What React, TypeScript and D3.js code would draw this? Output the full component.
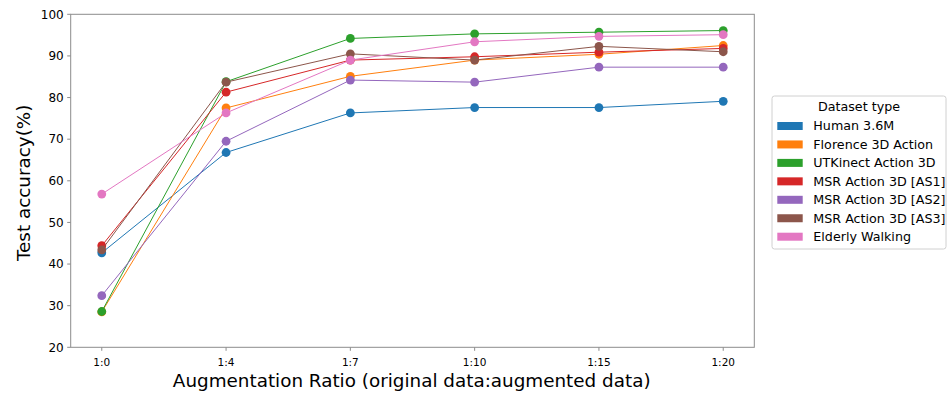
import React from "react";
import * as d3 from "d3";

const categories = ["1:0", "1:4", "1:7", "1:10", "1:15", "1:20"];
const seriesNames = [
  "Human 3.6M",
  "Florence 3D Action",
  "UTKinect Action 3D",
  "MSR Action 3D [AS1]",
  "MSR Action 3D [AS2]",
  "MSR Action 3D [AS3]",
  "Elderly Walking",
];
const human = [42.7, 66.8, 76.3, 77.6, 77.6, 79.1];
const florence = [28.5, 77.5, 85.1, 89.0, 90.4, 92.5];
const utkinect = [28.6, 83.8, 94.2, 95.3, 95.7, 96.1];
const msrAS1 = [44.4, 81.3, 89.0, 89.8, 90.9, 91.8];
const msrAS2 = [32.4, 69.5, 84.2, 83.7, 87.3, 87.3];
const msrAS3 = [43.4, 83.7, 90.5, 89.0, 92.3, 91.0];
const elderly = [56.8, 76.3, 89.0, 93.4, 94.7, 95.1];
const yTicks = [20, 30, 40, 50, 60, 70, 80, 90, 100];
const colors = ["#1f77b4", "#ff7f0e", "#2ca02c", "#d62728", "#9467bd", "#8c564b", "#e377c2"];

const allSeries = [human, florence, utkinect, msrAS1, msrAS2, msrAS3, elderly];

export default function App() {
  const W = 950, H = 394;
  const left = 70.7, right = 754.3, top = 14.3, bottom = 347.3;
  const x = d3.scalePoint<string>().domain(categories).range([left, right]).padding(0.25);
  const y = d3.scaleLinear().domain([20, 100]).range([bottom, top]);
  const line = d3.line<number>().x((_, i) => x(categories[i])!).y((d) => y(d));
  const font = "'DejaVu Sans', sans-serif";
  const axisColor = "#8c8c8c";
  const legX = 772, legY = 96, legW = 174, legH = 153;
  const rowY0 = 126, rowStep = 18.45;
  return (
    <svg width={W} height={H} style={{ position: "absolute", left: 0, top: 0 }} fontFamily={font}>
      <rect x={0} y={0} width={W} height={H} fill="#fff" />
      {/* series */}
      {allSeries.map((s, k) => (
        <g key={k}>
          <path d={line(s)!} fill="none" stroke={colors[k]} strokeWidth={1} />
          {s.map((v, i) => (
            <circle key={i} cx={x(categories[i])} cy={y(v)} r={4.4} fill={colors[k]} />
          ))}
        </g>
      ))}
      {/* frame */}
      <rect x={left} y={top} width={right - left} height={bottom - top} fill="none" stroke={axisColor} strokeWidth={1} />
      {/* y ticks */}
      {yTicks.map((t) => (
        <g key={t}>
          <line x1={left - 3.5} x2={left} y1={y(t)} y2={y(t)} stroke={axisColor} />
          <text x={left - 7} y={y(t)} dy="0.35em" textAnchor="end" fontSize={12} fill="#000">
            {t}
          </text>
        </g>
      ))}
      {/* x ticks */}
      {categories.map((c) => (
        <g key={c}>
          <line x1={x(c)} x2={x(c)} y1={bottom} y2={bottom + 3.5} stroke={axisColor} />
          <text x={x(c)} y={bottom + 15} dy="0.35em" textAnchor="middle" fontSize={10.5} fill="#000">
            {c}
          </text>
        </g>
      ))}
      <text x={(left + right) / 2 - 0.8} y={386.7} textAnchor="middle" fontSize={18.35} fill="#000">
        Augmentation Ratio (original data:augmented data)
      </text>
      <text
        transform={`translate(30,${(top + bottom) / 2 + 2}) rotate(-90)`}
        textAnchor="middle"
        fontSize={18.35}
        fill="#000"
      >
        Test accuracy(%)
      </text>
      {/* legend */}
      <rect x={legX} y={legY} width={legW} height={legH} rx={2.5} fill="#fff" stroke="#d0d0d0" strokeWidth={1} />
      <text x={legX + legW / 2} y={111} textAnchor="middle" fontSize={12.7} fill="#000">
        Dataset type
      </text>
      {seriesNames.map((n, k) => (
        <g key={n}>
          <rect x={777.3} y={rowY0 + k * rowStep - 4} width={25.4} height={8} fill={colors[k]} />
          <text x={813.3} y={rowY0 + k * rowStep} dy="0.35em" fontSize={12.7} fill="#000">
            {n}
          </text>
        </g>
      ))}
    </svg>
  );
}
